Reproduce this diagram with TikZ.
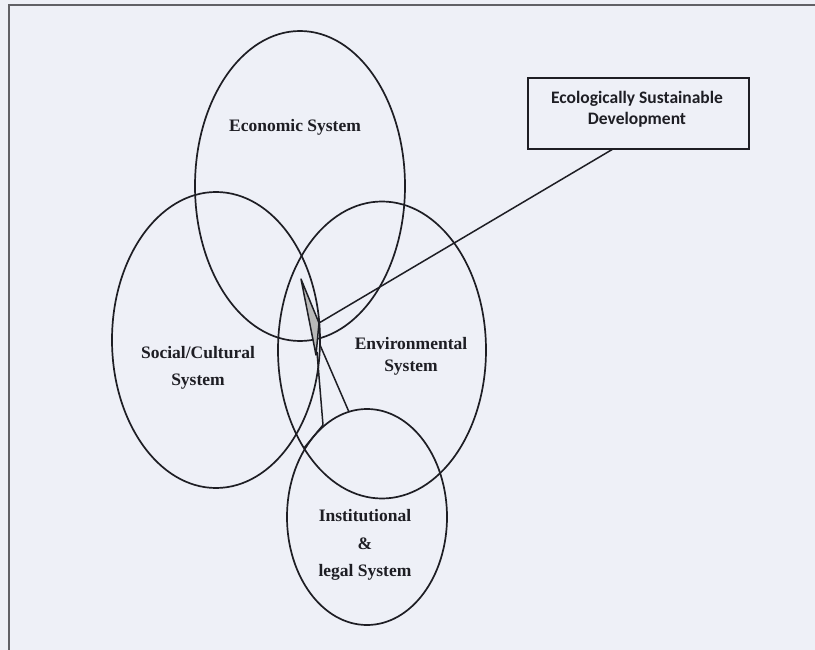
\documentclass[tikz,border=0pt]{standalone}
\usepackage{fontspec}
\setmainfont{Liberation Serif}
\newfontfamily\boxfont{Carlito}
\usetikzlibrary{shapes.geometric}
\definecolor{paper}{HTML}{EEF0F7}
\definecolor{ink}{HTML}{1E1E24}
\begin{document}
\begin{tikzpicture}[x=1pt,y=-1pt,
  ring/.style={draw=ink, line width=1.7pt, ellipse, inner sep=0pt},
  lbl/.style={text=ink, align=center, inner sep=0pt},
  wire/.style={draw=ink, line width=1.5pt, line join=round}]
\fill[paper] (0,0) rectangle (815,650);
\useasboundingbox (0,0) rectangle (815,650);
\draw[line width=1.2pt, ink!70] (9,650) -- (9,5) -- (815,5);

% circles
\node[ring, minimum width=210pt, minimum height=310pt] (eco)  at (300,186) {};
\node[ring, minimum width=208pt, minimum height=296pt] (soc)  at (216,340) {};
\node[ring, minimum width=208pt, minimum height=297pt] (env)  at (382,350) {};
\node[ring, minimum width=160pt, minimum height=216pt] (inst) at (367,517) {};

% labels
\node[lbl, font=\fontsize{17.5}{20}\selectfont\bfseries] (ecol) at (295,127) {Economic System};
\node[lbl, font=\fontsize{17.5}{27}\selectfont\bfseries] (socl) at (198,368) {Social/Cultural\\System};
\node[lbl, font=\fontsize{17.5}{22}\selectfont\bfseries] (envl) at (411,356) {Environmental\\System};
\node[lbl, font=\fontsize{17.5}{27.5}\selectfont\bfseries] (instl) at (365,545) {Institutional\\\&\\legal System};

% callout box
\node[draw=ink, line width=1.8pt, minimum width=221pt, minimum height=71pt,
      align=center, text=ink, font=\boxfont\bfseries\fontsize{17.5}{21}\selectfont] (esd) at (638.5,113.5)
      {};
\node[lbl, font=\boxfont\bfseries\fontsize{17.5}{21}\selectfont] (esdl) at (637,109.5)
      {Ecologically Sustainable\\Development};

% callout pointer
\coordinate (tail) at (613,149);
\coordinate (tip) at (301,279);
\coordinate (p1) at (319,323);
\coordinate (p2) at (316,355);
\coordinate (q1) at (320,345);
\coordinate (q2) at (349,412);
\coordinate (r1) at (317,352);
\coordinate (r2) at (323,425);
\coordinate (r3) at (304,448);
\draw[wire] (tail) -- (p1);
\filldraw[wire, fill=gray!55] (tip) -- (p1) -- (p2) -- cycle;
\draw[wire] (q1) -- (q2);
\draw[wire] (r1) -- (r2) -- (r3);
\end{tikzpicture}
\end{document}
